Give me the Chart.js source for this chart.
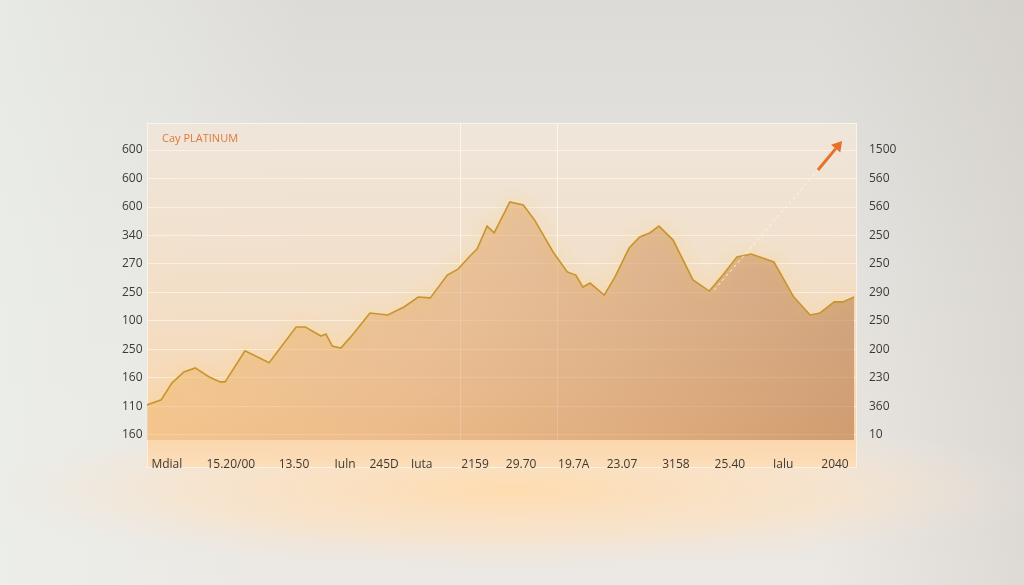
<!DOCTYPE html>
<html>
<head>
<meta charset="utf-8">
<script src="https://cdn.jsdelivr.net/npm/chart.js@4.4.1/dist/chart.umd.min.js"></script>
<style>
  html, body { margin: 0; padding: 0; background: #e3e1dd; }
  #wrap { width: 1024px; height: 585px; }
</style>
</head>
<body>
<div id="wrap"><canvas id="myChart" width="1024" height="585"></canvas></div>
<script>
// values (x in % of the panel width, y in grid steps)
let xValues = [0, 2.0, 3.5, 5.2, 6.8, 8.7, 10.3, 11.0, 13.8, 17.2, 21.0, 22.3, 23.5, 24.5, 25.2, 26.1, 27.3, 28.7,
  31.4, 33.9, 36.2, 38.2, 39.9, 42.3, 43.8, 45.5, 46.5, 47.9, 48.9, 51.1, 53.0, 54.6, 57.2, 59.2, 60.4, 61.4,
  62.4, 64.4, 65.9, 67.9, 69.4, 70.8, 72.1, 74.1, 76.9, 79.2, 81.1, 83.1, 85.1, 88.3, 91.1, 93.4, 94.8, 96.8, 98.0, 99.6];
let yValues = [1.05, 1.23, 1.82, 2.21, 2.35, 2.04, 1.86, 1.86, 2.95, 2.53, 3.79, 3.79, 3.61, 3.47, 3.54, 3.12, 3.05, 3.44,
  4.28, 4.21, 4.49, 4.84, 4.81, 5.61, 5.82, 6.28, 6.53, 7.33, 7.09, 8.18, 8.07, 7.54, 6.42, 5.72, 5.61, 5.19,
  5.33, 4.91, 5.54, 6.56, 6.95, 7.09, 7.33, 6.84, 5.44, 5.05, 5.61, 6.25, 6.35, 6.07, 4.84, 4.21, 4.28, 4.67, 4.67, 4.84];

let xTickPos = [2.8, 11.8, 20.7, 27.9, 33.4, 38.7, 46.2, 52.7, 60.1, 66.9, 74.5, 82.1, 89.6, 96.9];
let xLabels = ['Mdial', '15.20/00', '13.50', 'Juln', '245D', 'Juta', '2159', '29.70', '19.7A', '23.07', '3158', '25.40', 'Jalu', '2040'];
let leftLabels = ['160', '110', '160', '250', '100', '250', '270', '340', '600', '600', '600'];
let rightLabels = ['10', '360', '230', '200', '250', '290', '250', '250', '560', '560', '1500'];
let dividers = [44.1, 57.7];
let arrowPath = [[79.9, 5.09], [94.5, 9.30], [97.9, 10.32]];
let title = 'Cay PLATINUM';

let points = xValues.map((x, i) => ({ x: x, y: yValues[i] }));
let gridTicks = leftLabels.map((l, i) => ({ value: i }));

let backdrop = {
  id: 'backdrop',
  beforeDraw(chart) {
    let c = chart.ctx, a = chart.chartArea, w = chart.width, h = chart.height;
    c.save();
    let bg = c.createLinearGradient(0, 0, 0, h);
    bg.addColorStop(0, '#dddbd7');
    bg.addColorStop(0.45, '#e6e4e0');
    bg.addColorStop(1, '#ece8e3');
    c.fillStyle = bg;
    c.fillRect(0, 0, w, h);
    let side = c.createLinearGradient(0, 0, w, 0);
    side.addColorStop(0, 'rgba(236,240,236,0.7)');
    side.addColorStop(0.3, 'rgba(236,240,236,0)');
    side.addColorStop(0.8, 'rgba(200,196,190,0)');
    side.addColorStop(1, 'rgba(200,196,190,0.4)');
    c.fillStyle = side;
    c.fillRect(0, 0, w, h);
    // warm glow under the panel
    c.translate(w / 2, a.bottom + 50);
    c.scale(1, 0.15);
    let glow = c.createRadialGradient(0, 0, 0, 0, 0, 540);
    glow.addColorStop(0, 'rgba(255,220,175,1)');
    glow.addColorStop(0.6, 'rgba(252,226,196,0.65)');
    glow.addColorStop(1, 'rgba(240,230,220,0)');
    c.fillStyle = glow;
    c.fillRect(-600, -560, 1200, 1120);
    c.restore();

    // glass panel
    c.save();
    let bottom = a.bottom + 28;
    let pg = c.createLinearGradient(0, a.top, 0, bottom);
    pg.addColorStop(0, 'rgba(240,230,218,0.9)');
    pg.addColorStop(0.6, 'rgba(245,220,192,0.9)');
    pg.addColorStop(0.9, 'rgba(251,212,168,0.95)');
    pg.addColorStop(1, 'rgba(252,222,185,0.95)');
    c.fillStyle = pg;
    c.fillRect(a.left, a.top, a.right - a.left, bottom - a.top);
    c.strokeStyle = 'rgba(255,250,240,0.7)';
    c.lineWidth = 1;
    c.strokeRect(a.left + 0.5, a.top + 0.5, a.right - a.left - 1, bottom - a.top - 1);
    let xs = chart.scales.x;
    c.strokeStyle = 'rgba(255,250,242,0.75)';
    dividers.forEach(d => {
      let px = Math.round(xs.getPixelForValue(d)) + 0.5;
      c.beginPath();
      c.moveTo(px, a.top);
      c.lineTo(px, a.bottom);
      c.stroke();
    });
    c.fillStyle = '#e0783a';
    c.font = '11px "Open Sans"';
    c.textBaseline = 'middle';
    c.fillText(title, a.left + 15, a.top + 16);
    c.restore();
  },
  beforeDatasetDraw(chart) {
    let c = chart.ctx;
    c.save();
    c.shadowColor = 'rgba(255,200,80,1)';
    c.shadowBlur = 16;
  },
  afterDatasetDraw(chart) {
    chart.ctx.restore();
  },
  afterDatasetsDraw(chart) {
    let c = chart.ctx, xs = chart.scales.x, ys = chart.scales.y;
    let p = arrowPath.map(q => [xs.getPixelForValue(q[0]), ys.getPixelForValue(q[1])]);
    c.save();
    c.strokeStyle = 'rgba(255,248,236,0.9)';
    c.lineWidth = 1;
    c.setLineDash([3, 3]);
    c.beginPath();
    c.moveTo(p[0][0], p[0][1]);
    c.lineTo(p[1][0], p[1][1]);
    c.stroke();
    c.setLineDash([]);
    c.strokeStyle = '#e8702a';
    c.fillStyle = '#e8702a';
    c.lineWidth = 3;
    let ang = Math.atan2(p[2][1] - p[1][1], p[2][0] - p[1][0]);
    let tip = p[2];
    let base = [tip[0] - 10 * Math.cos(ang), tip[1] - 10 * Math.sin(ang)];
    c.beginPath();
    c.moveTo(p[1][0], p[1][1]);
    c.lineTo(base[0], base[1]);
    c.stroke();
    c.beginPath();
    c.moveTo(tip[0], tip[1]);
    c.lineTo(base[0] + 6 * Math.sin(ang), base[1] - 6 * Math.cos(ang));
    c.lineTo(base[0] - 6 * Math.sin(ang), base[1] + 6 * Math.cos(ang));
    c.closePath();
    c.fill();
    c.restore();
  }
};

function areaFill(context) {
  let a = context.chart.chartArea;
  if (!a) return 'rgba(235,170,100,0.5)';
  let g = context.chart.ctx.createLinearGradient(a.left, a.top, a.right, a.bottom);
  g.addColorStop(0, 'rgba(246,190,115,0.5)');
  g.addColorStop(0.45, 'rgba(222,162,105,0.5)');
  g.addColorStop(1, 'rgba(180,118,72,0.6)');
  return g;
}

let ctx = document.getElementById('myChart').getContext('2d');
let myChart = new Chart(ctx, {
  type: 'line',
  data: {
    datasets: [{
      label: 'Platinum',
      data: points,
      borderColor: '#c8942c',
      borderWidth: 1.6,
      backgroundColor: areaFill,
      fill: 'start',
      pointRadius: 0,
      tension: 0
    }]
  },
  options: {
    responsive: false,
    animation: false,
    layout: { padding: { left: 122, right: 127, top: 123, bottom: 117 } },
    plugins: { legend: { display: false }, tooltip: { enabled: false } },
    scales: {
      x: {
        type: 'linear', min: 0, max: 100,
        afterBuildTicks: s => { s.ticks = xTickPos.map(v => ({ value: v })); },
        afterFit: s => { s.height = 28; },
        grid: { display: false },
        border: { display: false },
        ticks: {
          autoSkip: false, maxRotation: 0, padding: 9,
          color: '#3d3a36', font: { family: 'Open Sans', size: 12 },
          callback: (v, i) => xLabels[i]
        }
      },
      y: {
        position: 'left', min: -0.18, max: 10.95,
        afterBuildTicks: s => { s.ticks = gridTicks.map(t => ({ value: t.value })); },
        afterFit: s => { s.width = 25; },
        grid: { color: 'rgba(255,250,242,0.6)', drawTicks: false },
        border: { display: false },
        ticks: {
          crossAlign: 'far', padding: 0,
          color: '#3d3a36', font: { family: 'Open Sans', size: 12 },
          callback: (v, i) => leftLabels[i]
        }
      },
      y2: {
        position: 'right', min: -0.18, max: 10.95,
        afterBuildTicks: s => { s.ticks = gridTicks.map(t => ({ value: t.value })); },
        afterFit: s => { s.width = 40; },
        grid: { display: false },
        border: { display: false },
        ticks: {
          crossAlign: 'near', padding: 4,
          color: '#3d3a36', font: { family: 'Open Sans', size: 12 },
          callback: (v, i) => rightLabels[i]
        }
      }
    }
  },
  plugins: [backdrop]
});
</script>
</body>
</html>
